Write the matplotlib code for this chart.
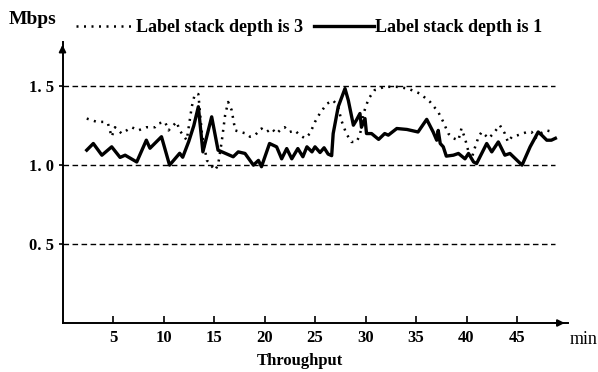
import matplotlib
matplotlib.use("Agg")
import matplotlib.pyplot as plt
from matplotlib.lines import Line2D

plt.rcParams['font.family'] = ['Liberation Serif', 'DejaVu Serif']

# ---- data ----
time_d1 = [2.4, 3.05, 3.9, 4.87, 5.7, 6.2, 7.35, 8.3, 8.66, 9.8, 10.6, 11.6, 11.9,
           12.5, 13.0, 13.45, 13.9, 14.77, 15.4, 16.9, 17.4, 18.07, 18.9, 19.4, 19.7,
           20.5, 21.2, 21.7, 22.2, 22.7, 23.3, 23.8, 24.2, 24.7, 25.0, 25.5, 25.9,
           26.3, 26.65, 26.8, 27.3, 27.97, 28.3, 28.8, 29.1, 29.45, 29.6, 29.95, 30.1,
           30.6, 31.3, 31.9, 32.26, 33.1, 34.1, 35.2, 36.06, 36.7, 37.05, 37.2, 37.4,
           37.7, 38.0, 38.7, 39.2, 39.85, 40.2, 40.7, 41.0, 42.0, 42.5, 43.15, 43.8,
           44.3, 45.5, 46.3, 47.1, 47.45, 47.95, 48.4, 48.8]
thr_d1 = [1.095, 1.137, 1.063, 1.116, 1.049, 1.063, 1.02, 1.158, 1.107, 1.18, 1.0,
          1.075, 1.05, 1.15, 1.25, 1.37, 1.084, 1.306, 1.095, 1.053, 1.084, 1.074,
          1.0, 1.03, 0.99, 1.137, 1.116, 1.04, 1.105, 1.04, 1.105, 1.053, 1.116,
          1.084, 1.116, 1.08, 1.11, 1.07, 1.06, 1.2, 1.37, 1.485, 1.41, 1.253, 1.285,
          1.327, 1.24, 1.295, 1.2, 1.2, 1.163, 1.2, 1.19, 1.232, 1.226, 1.21, 1.29,
          1.21, 1.158, 1.22, 1.137, 1.116, 1.057, 1.063, 1.074, 1.04, 1.074, 1.02,
          1.01, 1.137, 1.084, 1.147, 1.063, 1.074, 1.0, 1.116, 1.21, 1.19, 1.158,
          1.158, 1.17]

time_d3 = [2.4, 3.4, 4.05, 4.5, 4.87, 5.2, 5.86, 6.35, 6.85, 7.5, 8.3, 9.16, 9.5,
           10.15, 10.5, 11.3, 11.6, 12.3, 12.8, 13.1, 13.45, 13.8, 14.3, 15.1, 15.4,
           15.76, 16.1, 16.4, 16.75, 17.1, 17.6, 18.2, 18.56, 19.06, 19.7, 20.2, 20.7,
           21.2, 21.7, 22.0, 22.5, 23.0, 23.5, 24.0, 24.5, 25.0, 25.5, 26.2, 26.8,
           27.3, 27.6, 28.1, 28.6, 29.1, 29.45, 29.8, 30.3, 30.9, 31.9, 33.1, 34.2,
           35.4, 36.4, 37.2, 37.7, 38.2, 38.7, 39.2, 39.5, 39.85, 40.2, 40.5, 40.8,
           41.2, 41.5, 42.2, 42.65, 43.3, 43.8, 44.1, 44.5, 45.1, 46.0, 46.45, 46.8,
           47.3, 47.9, 48.6]
thr_d3 = [1.295, 1.274, 1.274, 1.264, 1.18, 1.24, 1.2, 1.22, 1.24, 1.22, 1.24, 1.24,
          1.264, 1.274, 1.22, 1.274, 1.22, 1.158, 1.37, 1.45, 1.45, 1.2, 1.03, 0.968,
          1.0, 1.147, 1.316, 1.40, 1.348, 1.22, 1.21, 1.2, 1.18, 1.19, 1.232, 1.21,
          1.232, 1.2, 1.232, 1.24, 1.21, 1.22, 1.19, 1.17, 1.2, 1.274, 1.33, 1.39,
          1.41, 1.37, 1.285, 1.2, 1.147, 1.147, 1.19, 1.327, 1.42, 1.475, 1.496,
          1.496, 1.485, 1.453, 1.40, 1.337, 1.274, 1.2, 1.17, 1.158, 1.232, 1.17,
          1.084, 1.04, 1.105, 1.18, 1.21, 1.17, 1.2, 1.253, 1.2, 1.147, 1.18, 1.19,
          1.21, 1.21, 1.17, 1.2, 1.22, 1.21]

x_ticks = [5, 10, 15, 20, 25, 30, 35, 40, 45]
y_ticks = [0.5, 1.0, 1.5]
y_tick_labels = ["0. 5", "1. 0", "1. 5"]
label_d3 = "Label stack depth is 3"
label_d1 = "Label stack depth is 1"

# ---- figure ----
fig = plt.figure(figsize=(5.98, 3.72), dpi=100)
ax = fig.add_axes([62.5 / 598, 49 / 372, 505 / 598, 281 / 372])
ax.set_xlim(0, 50)
ax.set_ylim(0, 1.78)

for s in ('top', 'right'):
    ax.spines[s].set_visible(False)
for s in ('left', 'bottom'):
    ax.spines[s].set_linewidth(1.4)

# arrows on axes
ax.annotate('', xy=(1.0, 0), xycoords='axes fraction', xytext=(0.97, 0),
            arrowprops=dict(arrowstyle='-|>', color='black', lw=1.4, mutation_scale=10))
ax.annotate('', xy=(0, 1.0), xycoords='axes fraction', xytext=(0, 0.96),
            arrowprops=dict(arrowstyle='-|>', color='black', lw=1.4, mutation_scale=10))

# dashed reference lines
for yv in y_ticks:
    ax.plot([0, 48.8], [yv, yv], color='black', lw=1.0, ls=(0, (4, 2.5)), zorder=1)

ax.plot(time_d3, thr_d3, color='black', lw=1.8, ls=(0, (0.8, 2.2)), zorder=2)
ax.plot(time_d1, thr_d1, color='black', lw=2.4, zorder=3, solid_joinstyle='round')

ax.set_xticks(x_ticks)
ax.set_xticklabels([str(v) for v in x_ticks], fontsize=12, fontweight='bold')
ax.set_yticks(y_ticks)
ax.set_yticklabels(y_tick_labels, fontsize=12, fontweight='bold')
ax.tick_params(axis='x', direction='in', length=5, width=1.2, pad=5)
ax.tick_params(axis='y', direction='out', length=3, width=1.2, pad=3)

# axis labels
fig.text(9 / 598, 1 - 20 / 372, "Mbps", fontsize=14, fontweight='bold',
         va='center', ha='left')
fig.text(570 / 598, 1 - 339 / 372, "min", fontsize=13, va='center', ha='left')
fig.text(300 / 598, 1 - 361 / 372, "Throughput", fontsize=12, fontweight='bold',
         va='center', ha='center')

# legend
handles = [Line2D([], [], color='black', lw=1.8, ls=(0, (0.8, 2.2))),
           Line2D([], [], color='black', lw=2.4)]
fig.legend(handles, [label_d3, label_d1], loc='center left',
           bbox_to_anchor=(76 / 598, 1 - 28 / 372), ncol=2, frameon=False,
           prop={'size': 13, 'weight': 'bold'}, handlelength=3.3,
           handletextpad=0.05, columnspacing=0.6,
           borderpad=0, borderaxespad=0)

fig.savefig("out.png", dpi=100, facecolor='white')
